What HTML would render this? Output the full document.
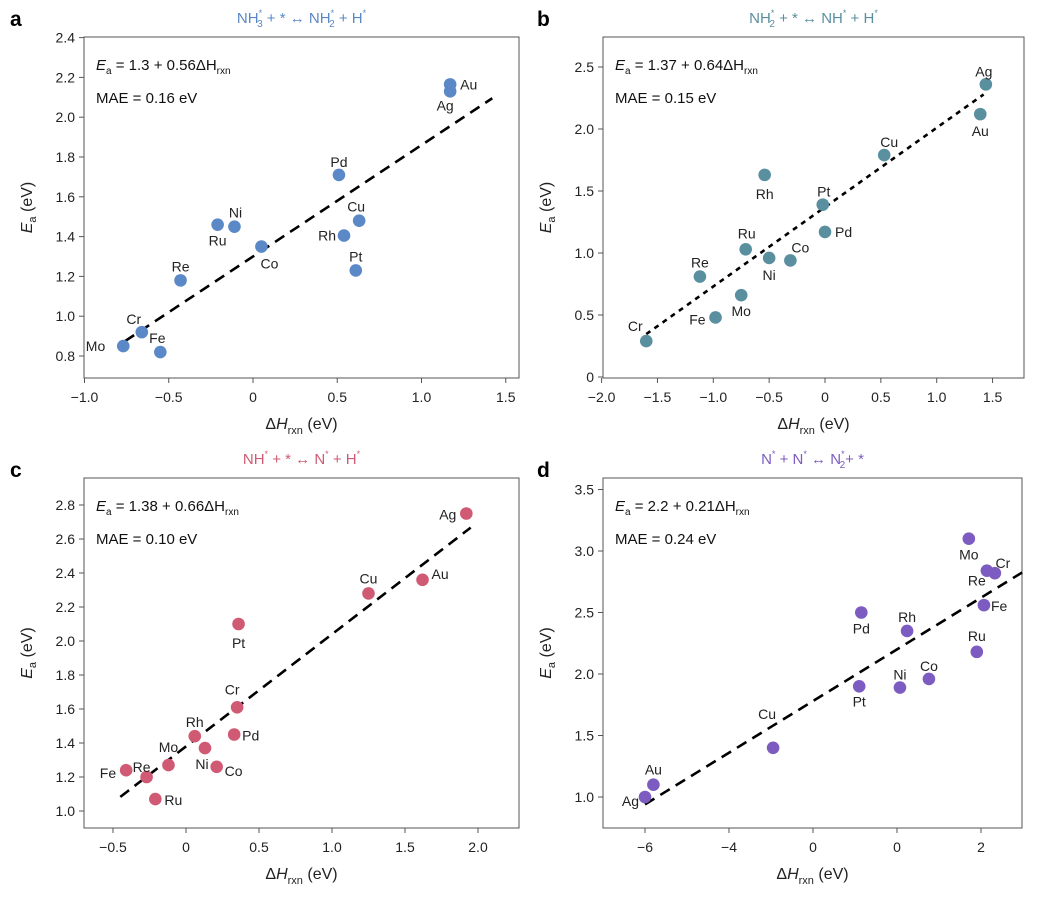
<!DOCTYPE html>
<html><head><meta charset="utf-8">
<style>
body{margin:0;background:#fff;font-family:"Liberation Sans",sans-serif;}
svg text{font-family:"Liberation Sans",sans-serif;}
</style></head>
<body>
<svg id="fig" width="1059" height="900" xmlns="http://www.w3.org/2000/svg"></svg>
<script>
const NS="http://www.w3.org/2000/svg";
const fig=document.getElementById('fig');
// ---- data ----
const aNames=["Mo","Cr","Fe","Re","Ru","Ni","Co","Pd","Rh","Cu","Pt","Au","Ag"];
const aX=[-0.77,-0.66,-0.55,-0.43,-0.21,-0.11,0.05,0.51,0.54,0.63,0.61,1.17,1.17];
const aY=[0.85,0.92,0.82,1.18,1.46,1.45,1.35,1.71,1.405,1.48,1.23,2.165,2.13];
const aXTicks=[-1.0,-0.5,0,0.5,1.0,1.5];
const aXTickLabels=["−1.0","−0.5","0","0.5","1.0","1.5"];
const aYTicks=[0.8,1.0,1.2,1.4,1.6,1.8,2.0,2.2,2.4];
const aYTickLabels=["0.8","1.0","1.2","1.4","1.6","1.8","2.0","2.2","2.4"];
const aFit=[1.3,0.56];const aFitRange=[-0.76,1.42];

const bNames=["Cr","Fe","Mo","Re","Ru","Ni","Co","Rh","Pt","Pd","Cu","Au","Ag"];
const bX=[-1.6,-0.98,-0.75,-1.12,-0.71,-0.5,-0.31,-0.54,-0.02,0.0,0.53,1.39,1.44];
const bY=[0.29,0.48,0.66,0.81,1.03,0.96,0.94,1.63,1.39,1.17,1.79,2.12,2.36];
const bXTicks=[-2.0,-1.5,-1.0,-0.5,0,0.5,1.0,1.5];
const bXTickLabels=["−2.0","−1.5","−1.0","−0.5","0","0.5","1.0","1.5"];
const bYTicks=[0,0.5,1.0,1.5,2.0,2.5];
const bYTickLabels=["0","0.5","1.0","1.5","2.0","2.5"];
const bFit=[1.37,0.64];const bFitRange=[-1.6,1.42];

const cNames=["Fe","Re","Ru","Mo","Rh","Ni","Co","Pd","Cr","Pt","Cu","Au","Ag"];
const cX=[-0.41,-0.27,-0.21,-0.12,0.06,0.13,0.21,0.33,0.35,0.36,1.25,1.62,1.92];
const cY=[1.24,1.2,1.07,1.27,1.44,1.37,1.26,1.45,1.61,2.1,2.28,2.36,2.75];
const cXTicks=[-0.5,0,0.5,1.0,1.5,2.0];
const cXTickLabels=["−0.5","0","0.5","1.0","1.5","2.0"];
const cYTicks=[1.0,1.2,1.4,1.6,1.8,2.0,2.2,2.4,2.6,2.8];
const cYTickLabels=["1.0","1.2","1.4","1.6","1.8","2.0","2.2","2.4","2.6","2.8"];
const cFit=[1.38,0.66];const cFitRange=[-0.45,1.95];

const dNames=["Ag","Au","Cu","Pt","Pd","Rh","Ni","Co","Ru","Fe","Re","Cr","Mo"];
const dX=[-6.0,-5.8,-2.95,-0.9,-0.85,0.24,0.07,0.76,1.9,2.07,2.14,2.33,1.71];
const dY=[1.0,1.1,1.4,1.9,2.5,2.35,1.89,1.96,2.18,2.56,2.84,2.82,3.1];
const dXTicks=[-6,-4,-2,0,2];
const dXTickLabels=["−6","−4","0","0","2"];
const dYTicks=[1.0,1.5,2.0,2.5,3.0,3.5];
const dYTickLabels=["1.0","1.5","2.0","2.5","3.0","3.5"];
const dFit=[2.2,0.21];const dFitRange=[-6.0,2.98];

// ---- label offsets (styling) ----
const offA={Mo:[-18,0,'end'],Cr:[-8,-13,'middle'],Fe:[-3,-14,'middle'],Re:[0,-14,'middle'],Ru:[0,16,'middle'],Ni:[1,-14,'middle'],Co:[8,17,'middle'],Pd:[0,-13,'middle'],Rh:[-8,0,'end'],Cu:[-3,-14,'middle'],Pt:[0,-14,'middle'],Au:[10,0,'start'],Ag:[-5,14,'middle']};
const offB={Cr:[-11,-15,'middle'],Fe:[-10,2,'end'],Mo:[0,16,'middle'],Re:[0,-14,'middle'],Ru:[1,-16,'middle'],Ni:[0,17,'middle'],Co:[10,-13,'middle'],Rh:[0,19,'middle'],Pt:[1,-13,'middle'],Pd:[10,0,'start'],Cu:[5,-13,'middle'],Au:[0,17,'middle'],Ag:[-2,-13,'middle']};
const offC={Fe:[-10,3,'end'],Re:[-5,-10,'middle'],Ru:[9,1,'start'],Mo:[0,-18,'middle'],Rh:[0,-14,'middle'],Ni:[-3,16,'middle'],Co:[8,4,'start'],Pd:[8,1,'start'],Cr:[-5,-18,'middle'],Pt:[0,19,'middle'],Cu:[0,-15,'middle'],Au:[9,-6,'start'],Ag:[-10,1,'end']};
const offD={Ag:[-6,4,'end'],Au:[0,-15,'middle'],Cu:[-6,-34,'middle'],Pt:[0,15,'middle'],Pd:[0,16,'middle'],Rh:[0,-14,'middle'],Ni:[0,-13,'middle'],Co:[0,-13,'middle'],Ru:[0,-16,'middle'],Fe:[7,1,'start'],Re:[-10,10,'middle'],Cr:[8,-10,'middle'],Mo:[0,16,'middle']};

function el(tag,attrs,parent,text){const e=document.createElementNS(NS,tag);for(const k in attrs)e.setAttribute(k,attrs[k]);if(text!==undefined)e.textContent=text;(parent||fig).appendChild(e);return e;}

// title parts: [text, kind] kind: '' normal, 'sup' (star), 'ss' (star over subscript)
function titleHTML(parts){
  let h='';
  parts.forEach(p=>{
    if(p[1]==='sup') h+=`<tspan font-size="9" dy="-7">*</tspan><tspan dy="7" font-size="15">${p[0]}</tspan>`;
    else if(p[1]==='ss') h+=`<tspan font-size="9" dy="-7">*</tspan><tspan font-size="10" dx="-5" dy="11">${p[2]}</tspan><tspan dy="-4" font-size="15">${p[0]}</tspan>`;
    else h+=`<tspan>${p[0]}</tspan>`;
  });
  return h;
}

function panel(cfg){
  const g=el('g',{});
  
  
  const sx=v=>cfg.x0px+(v-cfg.x0)*cfg.kx;
  const sy=v=>cfg.y0px-(v-cfg.y0)*cfg.ky;
  const L=cfg.box[0],T=cfg.box[1],R=cfg.box[2],B=cfg.box[3];
  const sp=el('path',{d:`M${L},${T}H${R}V${B}H${L}Z`,fill:'none',stroke:'#555','stroke-width':1},g);
  
  cfg.xt.forEach((t,i)=>{const x=sx(t);
    el('line',{x1:x,x2:x,y1:B,y2:B+5,stroke:'#555'},g);
    const tx=el('text',{x:x,y:B+24,'font-size':14,'text-anchor':'middle',fill:'#222'},g,cfg.xtl[i]);
    });
  cfg.yt.forEach((t,i)=>{const y=sy(t);
    el('line',{x1:L-5,x2:L,y1:y,y2:y,stroke:'#555'},g);
    const ty=el('text',{x:L-9,y:y+5,'font-size':14,'text-anchor':'end',fill:'#222'},g,cfg.ytl[i]);
    });
  const f0=cfg.fr[0],f1=cfg.fr[1];
  const fl=el('line',{x1:sx(f0),y1:sy(cfg.fit[0]+cfg.fit[1]*f0),x2:sx(f1),y2:sy(cfg.fit[0]+cfg.fit[1]*f1),stroke:'#000','stroke-width':2.6,'stroke-dasharray':cfg.dash},g);
  
  cfg.names.forEach((n,i)=>{
    const cx=sx(cfg.X[i]),cy=sy(cfg.Y[i]);
    const c=el('circle',{cx:cx,cy:cy,r:6.3,fill:cfg.color},g);
    
    
    const o=cfg.off[n]||[0,-14,'middle'];
    const t=el('text',{x:cx+o[0],y:cy+o[1]+5,'font-size':14,'text-anchor':o[2],fill:'#222'},g,n);
    
  });
  const a1=el('text',{x:L+12,y:T+33,'font-size':15,fill:'#111'},g);
  
  a1.innerHTML=`<tspan font-style="italic">E</tspan><tspan font-size="10" dy="4">a</tspan><tspan dy="-4"> = ${cfg.eq}ΔH</tspan><tspan font-size="10" dy="4">rxn</tspan>`;
  const a2=el('text',{x:L+12,y:T+66,'font-size':15,fill:'#111'},g,'MAE = '+cfg.mae+' eV');
  
  const xl=el('text',{x:(L+R)/2,y:B+51,'font-size':16,'text-anchor':'middle',fill:'#222'},g);
  
  xl.innerHTML=`Δ<tspan font-style="italic">H</tspan><tspan font-size="11" dy="5">rxn</tspan><tspan dy="-5"> (eV)</tspan>`;
  const yx=L-52,yy=(T+B)/2;
  const yl=el('text',{x:yx,y:yy,'font-size':16,'text-anchor':'middle',fill:'#222',transform:`rotate(-90 ${yx} ${yy})`},g);
  
  yl.innerHTML=`<tspan font-style="italic">E</tspan><tspan font-size="11" dy="4">a</tspan><tspan dy="-4"> (eV)</tspan>`;
  const lt=el('text',{x:cfg.letter[0],y:cfg.letter[1],'font-size':21,'font-weight':'bold',fill:'#000'},g,cfg.id);
  
  const tt=el('text',{x:(L+R)/2,y:T-14,'font-size':15,'text-anchor':'middle',fill:cfg.color},g);
  
  tt.innerHTML=titleHTML(cfg.title);
}
panel({id:'a',names:aNames,X:aX,Y:aY,xt:aXTicks,xtl:aXTickLabels,yt:aYTicks,ytl:aYTickLabels,fit:aFit,fr:aFitRange,
 x0:0,x0px:253,kx:168.5,y0:0.8,y0px:356,ky:199,box:[84,37,519,378],color:'#5b88c6',dash:'11,7',off:offA,
 eq:'1.3 + 0.56',mae:'0.16',letter:[10,26],
 title:[['NH',''],[' + * ↔ NH','ss','3'],[' + H','ss','2'],['','sup']]});
panel({id:'b',names:bNames,X:bX,Y:bY,xt:bXTicks,xtl:bXTickLabels,yt:bYTicks,ytl:bYTickLabels,fit:bFit,fr:bFitRange,
 x0:0,x0px:825,kx:111.7,y0:0,y0px:377,ky:124,box:[603,37,1024,378],color:'#5a8fa0',dash:'5,5',off:offB,
 eq:'1.37 + 0.64',mae:'0.15',letter:[537,26],
 title:[['NH',''],[' + * ↔ NH','ss','2'],[' + H','sup'],['','sup']]});
panel({id:'c',names:cNames,X:cX,Y:cY,xt:cXTicks,xtl:cXTickLabels,yt:cYTicks,ytl:cYTickLabels,fit:cFit,fr:cFitRange,
 x0:0,x0px:186,kx:146,y0:1.0,y0px:811,ky:170,box:[84,478,519,828],color:'#d05a73',dash:'11,7',off:offC,
 eq:'1.38 + 0.66',mae:'0.10',letter:[10,477],
 title:[['NH',''],[' + * ↔ N','sup'],[' + H','sup'],['','sup']]});
panel({id:'d',names:dNames,X:dX,Y:dY,xt:dXTicks,xtl:dXTickLabels,yt:dYTicks,ytl:dYTickLabels,fit:dFit,fr:dFitRange,
 x0:0,x0px:897,kx:42,y0:1.0,y0px:797,ky:123,box:[603,478,1022,828],color:'#7c5cc0',dash:'11,7',off:offD,
 eq:'2.2 + 0.21',mae:'0.24',letter:[537,477],
 title:[['N',''],[' + N','sup'],[' ↔ N','sup'],['+ *','ss','2']]});
</script>
</body></html>
